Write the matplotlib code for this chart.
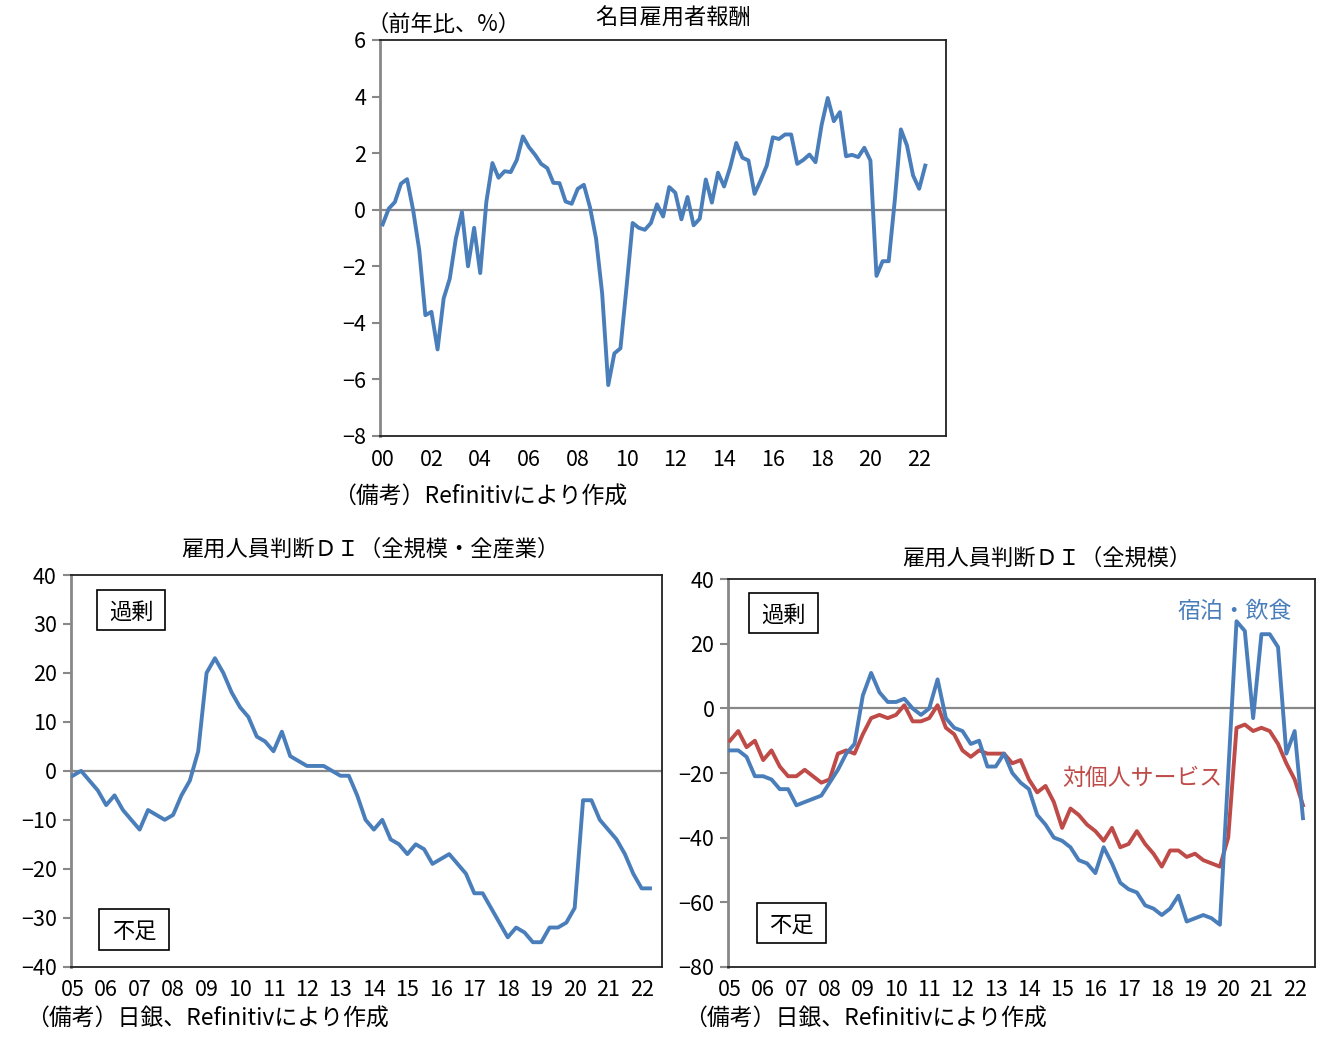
import matplotlib
matplotlib.use("Agg")
import matplotlib.pyplot as plt
from matplotlib.patches import Rectangle

plt.rcParams['font.family'] = ['Noto Sans CJK JP', 'DejaVu Sans']

W, H = 1332, 1052

# ---------------- data ----------------
wage_labels = ["00", "02", "04", "06", "08", "10", "12", "14", "16", "18", "20", "22"]
wage = [-0.52, 0.04, 0.27, 0.92, 1.08, -0.02, -1.43, -3.73, -3.61, -4.94,
        -3.14, -2.44, -1.02, -0.08, -2.0, -0.64, -2.24, 0.27, 1.65, 1.13,
        1.36, 1.33, 1.76, 2.59, 2.21, 1.94, 1.62, 1.47, 0.95, 0.94,
        0.29, 0.21, 0.74, 0.88, 0.09, -1.02, -2.96, -6.2, -5.08, -4.9,
        -2.73, -0.47, -0.64, -0.71, -0.47, 0.19, -0.24, 0.8, 0.6, -0.34,
        0.45, -0.55, -0.32, 1.07, 0.25, 1.31, 0.82, 1.5, 2.36, 1.84,
        1.74, 0.56, 1.04, 1.56, 2.56, 2.5, 2.66, 2.66, 1.62, 1.76,
        1.95, 1.68, 3.0, 3.95, 3.13, 3.45, 1.89, 1.94, 1.86, 2.19,
        1.74, -2.34, -1.82, -1.82, 0.33, 2.84, 2.27, 1.21, 0.74, 1.56]

di_labels = ["05", "06", "07", "08", "09", "10", "11", "12", "13", "14",
             "15", "16", "17", "18", "19", "20", "21", "22"]
di_all = [-1, 0, -2, -4, -7, -5, -8, -10, -12, -8,
          -9, -10, -9, -5, -2, 4, 20, 23, 20, 16,
          13, 11, 7, 6, 4, 8, 3, 2, 1, 1,
          1, 0, -1, -1, -5, -10, -12, -10, -14, -15,
          -17, -15, -16, -19, -18, -17, -19, -21, -25, -25,
          -28, -31, -34, -32, -33, -35, -35, -32, -32, -31,
          -28, -6, -6, -10, -12, -14, -17, -21, -24, -24]
di_hotel = [-13, -13, -15, -21, -21, -22, -25, -25, -30, -29,
            -28, -27, -23, -19, -14, -11, 4, 11, 5, 2,
            2, 3, 0, -2, 0, 9, -3, -6, -7, -11,
            -10, -18, -18, -14, -20, -23, -25, -33, -36, -40,
            -41, -43, -47, -48, -51, -43, -48, -54, -56, -57,
            -61, -62, -64, -62, -58, -66, -65, -64, -65, -67,
            -20, 27, 24, -3, 23, 23, 19, -14, -7, -34]
di_personal = [-10, -7, -12, -10, -16, -13, -18, -21, -21, -19,
               -21, -23, -22, -14, -13, -14, -8, -3, -2, -3,
               -2, 1, -4, -4, -3, 1, -6, -8, -13, -15,
               -13, -14, -14, -14, -17, -16, -22, -26, -24, -29,
               -37, -31, -33, -36, -38, -41, -37, -43, -42, -38,
               -42, -45, -49, -44, -44, -46, -45, -47, -48, -49,
               -40, -6, -5, -7, -6, -7, -11, -17, -22, -30]

BLUE = "#4A7EBB"
RED = "#BE4B48"
FS = 15.5
TFS = 16
NFS = 16.5


def rect(l, r, t, b):
    return [l / W, 1 - b / H, (r - l) / W, (b - t) / H]


def style(ax, ylim, yticks, xlim, xticks, xlabels):
    ax.set_ylim(*ylim)
    ax.set_xlim(*xlim)
    ax.set_yticks(yticks)
    ax.set_yticklabels([str(v).replace("-", "\u2212") for v in yticks], fontsize=FS)
    ax.set_xticks(xticks)
    ax.set_xticklabels(xlabels, fontsize=FS)
    ax.tick_params(axis="x", length=0, pad=9)
    ax.tick_params(axis="y", length=6, width=1.5, color="#888888", pad=4, direction="out")
    for s in ["top", "right", "bottom"]:
        ax.spines[s].set_color("#222222")
        ax.spines[s].set_linewidth(1.3)
    ax.spines["left"].set_color("#888888")
    ax.spines["left"].set_linewidth(2)
    ax.axhline(0, color="#888888", lw=1.6, zorder=1)


def ftext(x, y, s, **kw):
    fig.text(x / W, 1 - y / H, s, **kw)


def fbox(l, r, t, b, s):
    fig.patches.append(Rectangle((l / W, 1 - b / H), (r - l) / W, (b - t) / H,
                                 transform=fig.transFigure, fill=False,
                                 edgecolor="black", lw=1.2))
    ftext((l + r) / 2, (t + b) / 2 + 2, s, ha="center", va="center", fontsize=TFS)


fig = plt.figure(figsize=(W / 100, H / 100), dpi=100)

# ---------------- top chart ----------------
ax1 = fig.add_axes(rect(380, 946, 40, 436))
x1 = list(range(len(wage)))
ax1.plot(x1, wage, color=BLUE, lw=2.8, zorder=3)
style(ax1, (-8, 6), list(range(-8, 7, 2)), (-0.44, 92.4),
      list(range(0, len(wage), 8)), wage_labels)
ftext(366, 24, "（前年比、%）", ha="left", va="center", fontsize=TFS)
ftext(673, 18, "名目雇用者報酬", ha="center", va="center", fontsize=TFS)
ftext(333, 497, "（備考）Refinitivにより作成", ha="left", va="center", fontsize=NFS)

# ---------------- bottom-left chart ----------------
ax2 = fig.add_axes(rect(70.7, 661.7, 575, 966.7))
x2 = list(range(len(di_all)))
ax2.plot(x2, di_all, color=BLUE, lw=2.8, zorder=3)
style(ax2, (-40, 40), list(range(-40, 41, 10)), (-0.24, 70.4),
      list(range(0, len(di_all), 4)), di_labels)
ftext(370, 549, "雇用人員判断ＤＩ（全規模・全産業）", ha="center", va="center", fontsize=TFS)
ftext(26, 1019, "（備考）日銀、Refinitivにより作成", ha="left", va="center", fontsize=NFS)
fbox(97, 165, 590, 630, "過剰")
fbox(99, 169, 909, 950, "不足")

# ---------------- bottom-right chart ----------------
ax3 = fig.add_axes(rect(728.3, 1315, 579.3, 966.7))
x3 = list(range(len(di_hotel)))
ax3.plot(x3, di_personal, color=RED, lw=2.8, zorder=3)
ax3.plot(x3, di_hotel, color=BLUE, lw=2.8, zorder=4)
style(ax3, (-80, 40), list(range(-80, 41, 20)), (-0.2, 70.45),
      list(range(0, len(di_hotel), 4)), di_labels)
ftext(1047, 558, "雇用人員判断ＤＩ（全規模）", ha="center", va="center", fontsize=TFS)
ftext(684, 1019, "（備考）日銀、Refinitivにより作成", ha="left", va="center", fontsize=NFS)
fbox(749, 818, 593, 633, "過剰")
fbox(757, 826, 903, 943, "不足")
ftext(1235, 612, "宿泊・飲食", ha="center", va="center", fontsize=16.5, color=BLUE)
ftext(1142, 778, "対個人サービス", ha="center", va="center", fontsize=16.5, color=RED)

fig.savefig("out.png", dpi=100)
